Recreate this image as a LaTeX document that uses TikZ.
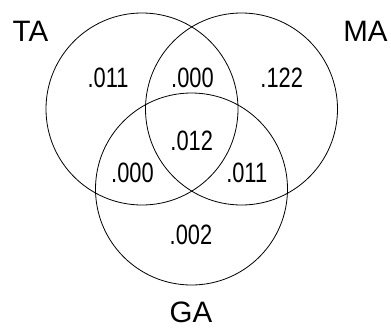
\documentclass[tikz,border=0pt]{standalone}
\usepackage{fontspec}
\setmainfont{Liberation Sans}
\newfontfamily\numfont[FakeStretch=0.78]{Liberation Sans}
\usetikzlibrary{positioning}

\tikzset{
  setcircle/.style={draw, circle, line width=0.8pt, minimum size=192pt, inner sep=0pt},
  setlabel/.style={inner sep=0pt, font=\fontsize{29.5}{30}\selectfont},
  share/.style={inner sep=0pt, font=\numfont\fontsize{28}{28}\selectfont}
}

\begin{document}
\begin{tikzpicture}[x=1pt,y=-1pt]
	\useasboundingbox (0,0) rectangle (391,327);

	% The three sets
	\node[setcircle] (ta) at (142,109) {};
	\node[setcircle] (ma) at (241.5,109) {};
	\node[setcircle] (ga) at (191.5,189) {};

	% Set names
	\node[setlabel] (talabel) at (30.5,31.2) {TA};
	\node[setlabel] (malabel) at (365.5,31.2) {MA};
	\node[setlabel] (galabel) at (191,312) {GA};

	% Proportions in each region
	\node[share] (taonly) at (108,77.5) {.011};
	\node[share] (tama) at (192.5,77.5) {.000};
	\node[share] (maonly) at (281.7,77.5) {.122};
	\node[share] (all) at (191.7,141) {.012};
	\node[share] (taga) at (132.5,172.5) {.000};
	\node[share] (maga) at (246.7,172.5) {.011};
	\node[share] (gaonly) at (191,235) {.002};
\end{tikzpicture}
\end{document}
